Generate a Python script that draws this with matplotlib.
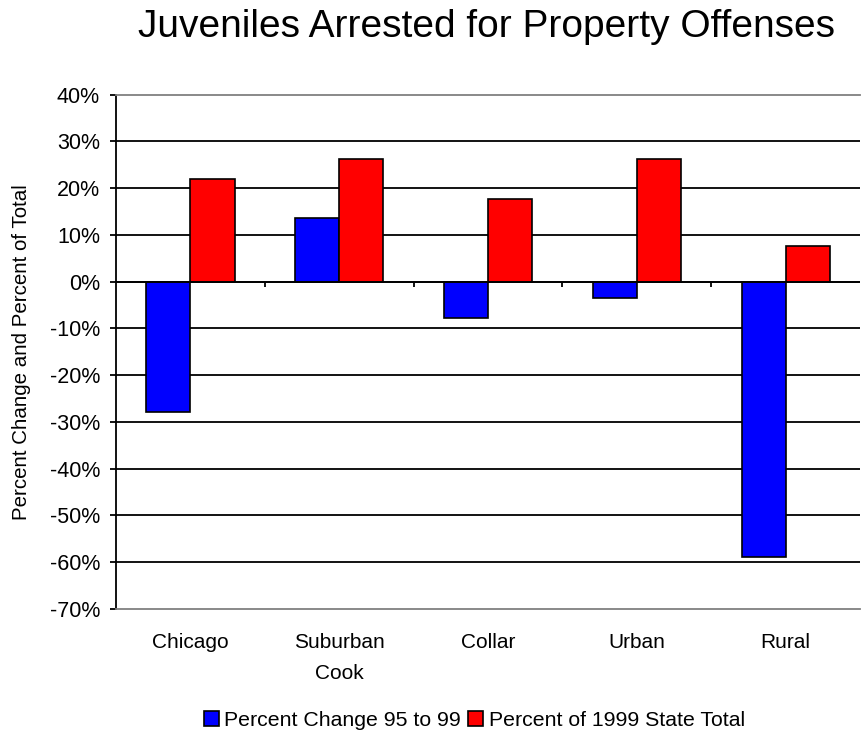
import numpy as np
import matplotlib.pyplot as plt
from matplotlib.ticker import FuncFormatter

plt.rcParams['font.family'] = ['Liberation Sans', 'DejaVu Sans']

regions = ['Chicago', 'Suburban\nCook', 'Collar', 'Urban', 'Rural']
pct_change = [-27.9, 13.6, -7.7, -3.4, -58.8]
pct_state_total = [21.9, 26.2, 17.6, 26.2, 7.7]

fig = plt.figure(figsize=(8.61, 7.34), dpi=100)
ax = fig.add_axes([0.1347, 0.1703, 0.8643, 0.7007])

x = np.arange(len(regions))
w = 0.297
ax.bar(x - w / 2, pct_change, w, color='#0000ff', edgecolor='black',
       linewidth=1.2, label='Percent Change 95 to 99', zorder=3)
ax.bar(x + w / 2, pct_state_total, w, color='#ff0000', edgecolor='black',
       linewidth=1.2, label='Percent of 1999 State Total', zorder=3)

ax.set_xlim(-0.5, len(regions) - 0.5)
ax.set_ylim(-70, 40)
ax.set_yticks(np.arange(-70, 41, 10))
ax.yaxis.set_major_formatter(FuncFormatter(lambda v, p: f'{v:.0f}%'))

# horizontal gridlines (top and bottom are the plot border)
for v in np.arange(-60, 31, 10):
    ax.axhline(v, color='black', linewidth=1.3, zorder=1)

# category axis runs along zero with tick marks between groups
ax.axhline(0, color='black', linewidth=1.3, zorder=4)
ax.vlines(x[:-1] + 0.5, -1.1, 0, color='black', linewidth=1.3, zorder=4)

ax.set_xticks(x)
ax.set_xticklabels(regions, fontsize=15, linespacing=1.8)
ax.tick_params(axis='x', length=0, pad=17)
ax.tick_params(axis='y', direction='out', length=4.5, width=1.3, labelsize=15.5, pad=7)

ax.spines['left'].set_color('black')
ax.spines['left'].set_linewidth(1.3)
for s in ('top', 'bottom'):
    ax.spines[s].set_color('#808080')
    ax.spines[s].set_linewidth(1.3)
ax.spines['right'].set_visible(False)

ax.set_ylabel('Percent Change and Percent of Total', fontsize=14.8)
ax.yaxis.set_label_coords(-0.114, 0.5, transform=ax.transAxes)
fig.text(0.5645, 0.9496, 'Juveniles Arrested for Property Offenses',
         fontsize=28, ha='center', va='baseline')

fig.legend(loc='center', bbox_to_anchor=(0.551, 0.018), ncol=2, frameon=False,
           fontsize=15.3, handlelength=0.7, handleheight=0.7, handletextpad=0.25,
           columnspacing=0.35)

fig.savefig('out.png', dpi=100)
plt.close(fig)
